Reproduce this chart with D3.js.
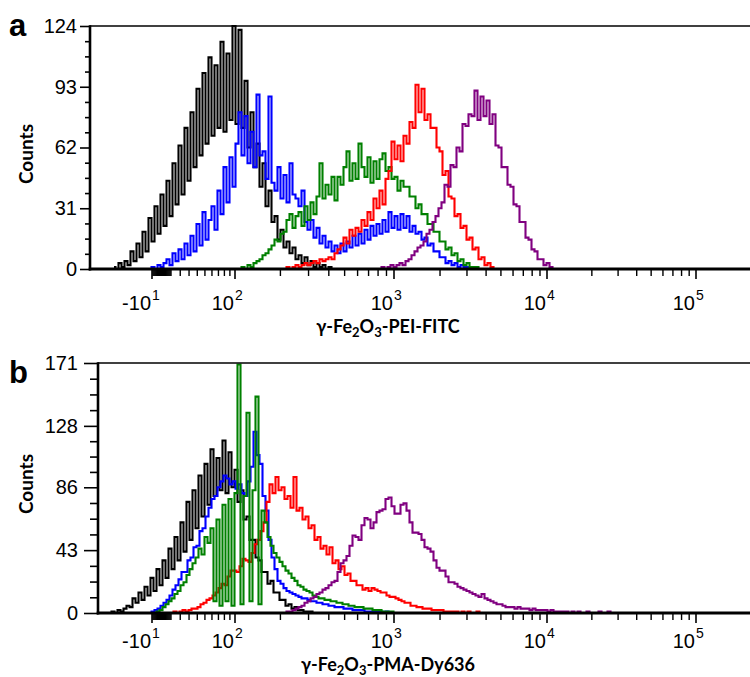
<!DOCTYPE html>
<html>
<head>
<meta charset="utf-8">
<script src="https://cdn.jsdelivr.net/npm/d3@7"></script>
<style>
  body { margin: 0; background: #fff; }
  svg { display: block; }
</style>
</head>
<body>
<div id="vis"></div>
<script>
const FRAME_WIDTH = 750;
const FRAME_HEIGHT = 677;

// x axis (biexponential display): labelled decades
const decadeValues = [-10, 100, 1000, 10000, 100000];
const decadeBase = ["-10", "10", "10", "10", "10"];
const decadeExp = ["1", "2", "3", "4", "5"];
// display channel where each labelled decade sits
const decadeChannels = [62, 145, 304, 457, 606];
// unlabelled ticks
const minorValues = [-9, -8, -7, -6, -5, -4, -3, -2, -1, 0, 1, 2, 3, 4, 5, 6, 7, 8, 9, 10,
  20, 30, 40, 50, 60, 70, 80, 90,
  200, 300, 400, 500, 600, 700, 800, 900,
  2000, 3000, 4000, 5000, 6000, 7000, 8000, 9000,
  20000, 30000, 40000, 50000, 60000, 70000, 80000, 90000];

// y ticks
const yTicksA = [0, 31, 62, 93, 124];
const yTicksB = [0, 43, 86, 128, 171];

// axis titles (odd entries are subscripts)
const titleA = ["γ-Fe", "2", "O", "3", "-PEI-FITC"];
const titleB = ["γ-Fe", "2", "O", "3", "-PMA-Dy636"];

// histograms: first channel, then counts every 3 channels
const BIN = 3;
const aBlackStart = 24;
const aBlack = [1,0,3,1,4,2,9,4,13,6, 19,9,26,14,32,18,38,22,45,27,
  54,33,63,38,72,45,80,52,92,58, 100,64,108,68,104,72,116,70,110,76,
  124,74,122,72,96,62,80,52,64,42, 54,32,40,24,27,15,20,11,14,8,
  11,5,7,3,6,2,4,1,3,1, 2,0,1,0];
const aBlueStart = 60;
const aBlue = [0,1,0,2,1,3,5,2,8,4, 10,5,13,7,17,9,23,12,29,15,
  25,32,20,40,28,52,34,57,42,64, 80,58,78,54,70,52,89,58,60,46,
  88,44,40,52,36,48,34,54,38,36, 32,40,24,20,25,16,21,13,17,11,
  14,9,12,8,13,9,14,11,17,12, 18,13,20,15,22,17,23,18,25,19,
  29,21,27,20,28,21,27,19,22,18, 19,15,16,12,13,9,9,6,6,3,
  4,2,3,1,2,1,1,1,0];
const aGreenStart = 150;
const aGreen = [0,1,0,2,1,3,4,5,7,8, 10,12,15,14,18,19,25,28,21,27,
  29,22,32,25,34,28,37,54,36,43, 38,47,35,47,43,52,60,45,54,46,
  64,52,47,57,44,55,46,56,59,50, 52,46,47,40,45,42,42,37,37,31,
  33,28,28,23,23,19,19,14,14,10, 11,7,8,4,5,2,3,1,1,1, 0];
const aRedStart = 195;
const aRed = [0,1,0,1,2,1,2,3,2,3, 4,3,5,4,5,6,5,8,10,12,
  16,13,20,17,21,19,25,22,29,25, 36,31,40,33,46,50,65,56,63,55,
  68,64,75,72,94,80,92,76,79,72, 72,62,60,48,50,37,36,27,28,21,
  22,15,16,10,11,5,6,2,3,1, 0];
const aPurpleStart = 290;
const aPurple = [0,1,0,1,2,1,2,3,2,4, 5,7,9,11,12,14,18,20,24,27,
  31,34,43,42,53,52,62,60,74,73, 79,78,91,76,88,78,86,74,79,63,
  62,52,52,43,42,33,32,24,24,16, 15,10,9,5,5,2,3,1,0];

const bBlackStart = 20;
const bBlack = [0,1,0,2,1,3,5,4,10,7, 14,9,18,12,24,15,30,19,36,24,
  44,30,52,36,62,42,76,50,84,58, 94,66,102,74,112,80,106,84,118,82,
  110,86,98,76,84,64,66,50,50,38, 36,28,28,20,22,14,14,9,9,5,
  6,3,4,2,2,1,1,1,0];
const bBlueStart = 60;
const bBlue = [0,1,2,3,5,7,9,12,16,19, 23,28,28,36,38,45,46,56,58,66,
  72,78,80,86,90,94,92,88,90,85, 88,82,80,90,100,124,108,102,80,70,
  50,38,30,22,20,17,15,14,13,12, 11,10,10,9,8,8,7,7,6,6,
  5,5,4,4,4,3,3,3,2,2, 2,2,1,1,1,1,1,1,0,1, 0];
const bGreenStart = 65;
const bGreen = [0,1,2,4,6,8,10,13,15,19, 21,26,30,34,38,44,40,52,48,58,
  8,64,5,74,8,78,5,82,170,6, 80,137,8,84,148,6,70,62,52,46,
  41,38,35,32,29,27,24,22,19,18, 16,15,14,12,11,10,10,9,9,8,
  8,7,7,6,6,5,5,4,4,4, 3,3,3,2,2,2,1,1,1,1, 0];
const bRedStart = 82;
const bRed = [0,1,0,1,2,1,2,3,3,4, 6,7,9,10,12,14,17,20,19,25,
  29,29,28,32,37,36,35,41,47,50, 56,62,76,88,82,93,84,86,78,80,
  72,93,70,72,64,66,58,60,50,52, 44,46,40,45,34,36,30,32,26,27,
  22,22,19,19,16,17,15,17,16,15, 14,14,12,11,11,10,9,8,7,7,
  5,5,4,4,3,3,3,2,2,2, 2,1,1,1,1,1,0,1,0,1, 0,0,1,0];
const bPurpleStart = 195;
const bPurple = [0,1,1,2,3,4,5,7,8,10, 11,13,14,16,17,19,21,22,28,34,
  36,39,46,53,52,50,60,65,64,58, 62,69,70,71,78,79,73,68,68,74,
  75,70,62,55,55,54,50,45,44,42, 36,31,29,29,25,21,21,20,18,17,
  16,15,14,13,12,11,13,10,9,8, 7,6,6,5,4,4,4,3,4,3,
  3,3,2,3,2,2,2,2,1,2, 1,1,1,1,1,0,1,0,1,0,
  0,1,0,0,0,1,0,0,1,0];

const COLORS = {black: "#000000", blue: "#0000ff", green: "#008000", red: "#ff0000", purple: "#800080"};

const panels = [
  {letter: "a", left: 90, top: 26, bottom: 269, yMax: 124, yTicks: yTicksA,
   majorLen: 10, minorLen: 5, labelGap: 41, labelRight: 77, titleGap: 64,
   title: titleA, countsY: 154, letterY: 36,
   series: [
     {start: aBlackStart, counts: aBlack, color: COLORS.black},
     {start: aBlueStart, counts: aBlue, color: COLORS.blue},
     {start: aGreenStart, counts: aGreen, color: COLORS.green},
     {start: aRedStart, counts: aRed, color: COLORS.red},
     {start: aPurpleStart, counts: aPurple, color: COLORS.purple}]},
  {letter: "b", left: 98, top: 363, bottom: 613, yMax: 171, yTicks: yTicksB,
   majorLen: 14, minorLen: 8, labelGap: 35, labelRight: 78, titleGap: 57.5,
   title: titleB, countsY: 484, letterY: 383,
   series: [
     {start: bBlackStart, counts: bBlack, color: COLORS.black},
     {start: bBlueStart, counts: bBlue, color: COLORS.blue},
     {start: bRedStart, counts: bRed, color: COLORS.red},
     {start: bGreenStart, counts: bGreen, color: COLORS.green},
     {start: bPurpleStart, counts: bPurple, color: COLORS.purple}]}
];

const svg = d3.select("#vis").append("svg")
  .attr("width", FRAME_WIDTH)
  .attr("height", FRAME_HEIGHT);

// channel -> pixel, shared by both panels
const X_SCALE = d3.scaleLinear().domain([0, 670]).range([90, 760]);

// value -> channel (asinh near zero, log for large values)
const tf = (v) => Math.asinh(v / 60);
const CHANNEL_OF = d3.scaleLinear()
  .domain(decadeValues.map(tf))
  .range(decadeChannels);
const xOfValue = (v) => X_SCALE(CHANNEL_OF(tf(v)));

const TICK_FONT = "'Liberation Sans', Arial, sans-serif";
const TITLE_FONT = "Lato, 'Open Sans', sans-serif";

panels.forEach((p) => {
  const g = svg.append("g");
  const Y_SCALE = d3.scaleLinear().domain([0, p.yMax]).range([p.bottom, p.top]);

  // clip for the traces
  const clipId = "clip-" + p.letter;
  svg.append("clipPath").attr("id", clipId)
    .append("rect")
      .attr("x", p.left).attr("y", p.top - 2)
      .attr("width", FRAME_WIDTH - p.left).attr("height", p.bottom - p.top + 2);

  const line = d3.line()
    .x((d) => X_SCALE(d[0]))
    .y((d) => Y_SCALE(d[1]))
    .curve(d3.curveStep);

  p.series.forEach((s) => {
    const pts = s.counts.map((c, i) => [s.start + i * BIN, c]);
    g.append("path")
      .datum(pts)
      .attr("clip-path", "url(#" + clipId + ")")
      .attr("d", line)
      .attr("fill", "none")
      .attr("stroke", s.color)
      .attr("stroke-width", 2.1)
      .attr("stroke-linejoin", "miter");
  });

  // frame top
  g.append("line")
    .attr("x1", p.left).attr("x2", FRAME_WIDTH)
    .attr("y1", p.top).attr("y2", p.top)
    .attr("stroke", "#000").attr("stroke-width", 1.6);

  // y axis
  const minorY = [];
  for (let i = 0; i < p.yTicks.length - 1; i++) {
    const a = p.yTicks[i], b = p.yTicks[i + 1];
    for (let k = 1; k < 4; k++) minorY.push(a + (b - a) * k / 4);
  }
  const yMinor = g.append("g")
    .attr("transform", "translate(" + p.left + ",0)")
    .call(d3.axisLeft(Y_SCALE).tickValues(minorY).tickSize(p.minorLen).tickFormat(""));
  const yMajor = g.append("g")
    .attr("transform", "translate(" + p.left + ",0)")
    .call(d3.axisLeft(Y_SCALE).tickValues(p.yTicks).tickSize(p.majorLen)
      .tickPadding(p.left - p.majorLen - p.labelRight));
  [yMinor, yMajor].forEach((ax) => {
    ax.select(".domain").remove();
    ax.selectAll("line").attr("stroke-width", 1.6);
  });
  yMajor.selectAll("text")
    .attr("font-family", TICK_FONT)
    .attr("font-size", 20)
    .attr("fill", "#000");

  g.append("line")
    .attr("x1", p.left).attr("x2", p.left)
    .attr("y1", p.top - 0.8).attr("y2", p.bottom + 1.5)
    .attr("stroke", "#000").attr("stroke-width", 2.6);

  // x axis
  g.append("line")
    .attr("x1", p.left - 1.3).attr("x2", FRAME_WIDTH)
    .attr("y1", p.bottom).attr("y2", p.bottom)
    .attr("stroke", "#000").attr("stroke-width", 3);

  g.selectAll(".xminor")
    .data(minorValues)
    .enter()
    .append("line")
      .attr("x1", (d) => xOfValue(d)).attr("x2", (d) => xOfValue(d))
      .attr("y1", p.bottom).attr("y2", p.bottom + 7)
      .attr("stroke", "#000").attr("stroke-width", 1.4);

  g.selectAll(".xmajor")
    .data(decadeValues)
    .enter()
    .append("line")
      .attr("x1", (d) => xOfValue(d)).attr("x2", (d) => xOfValue(d))
      .attr("y1", p.bottom).attr("y2", p.bottom + 10)
      .attr("stroke", "#000").attr("stroke-width", 1.6);

  decadeValues.forEach((v, i) => {
    const px = xOfValue(v);
    g.append("text")
      .attr("x", px - 1).attr("y", p.bottom + p.labelGap)
      .attr("text-anchor", "end")
      .attr("font-family", TICK_FONT).attr("font-size", 20)
      .text(decadeBase[i]);
    g.append("text")
      .attr("x", px).attr("y", p.bottom + p.labelGap - 10)
      .attr("text-anchor", "start")
      .attr("font-family", TICK_FONT).attr("font-size", 14)
      .text(decadeExp[i]);
  });

  // x title with subscripts
  const title = g.append("text")
    .attr("x", 388).attr("y", p.bottom + p.titleGap)
    .attr("text-anchor", "middle")
    .attr("font-family", TITLE_FONT).attr("font-weight", "bold")
    .attr("font-size", 18);
  p.title.forEach((part, i) => {
    const sub = i % 2 === 1;
    const prevSub = i > 0 && (i - 1) % 2 === 1;
    title.append("tspan")
      .attr("font-size", sub ? 13 : 18)
      .attr("dy", sub ? 4 : (prevSub ? -4 : 0))
      .text(part);
  });

  // y title
  g.append("text")
    .attr("transform", "translate(33," + p.countsY + ") rotate(-90)")
    .attr("text-anchor", "middle")
    .attr("font-family", TITLE_FONT).attr("font-weight", "bold")
    .attr("font-size", 19)
    .text("Counts");

  // panel letter
  g.append("text")
    .attr("x", 9).attr("y", p.letterY)
    .attr("font-family", "'Liberation Sans', Arial, sans-serif")
    .attr("font-weight", "bold").attr("font-size", 31)
    .text(p.letter);
});
</script>
</body>
</html>
